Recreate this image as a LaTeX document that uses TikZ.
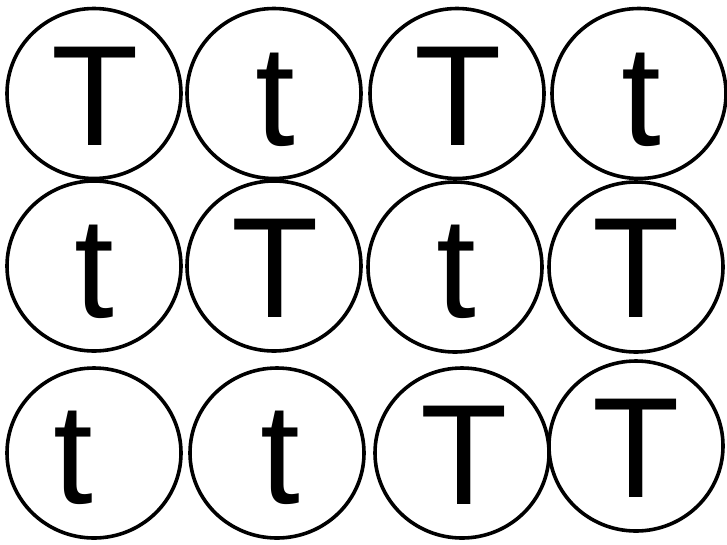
\documentclass[tikz,border=0pt]{standalone}
\usepackage{fontspec}
\setmainfont{Liberation Sans}
\usetikzlibrary{shapes.geometric}

\begin{document}
\begin{tikzpicture}[x=1pt, y=-1pt, line width=3.6pt,
	ring/.style={draw, ellipse, minimum width=174pt, minimum height=170pt, inner sep=0pt},
	letter/.style={anchor=base, inner sep=0pt, font=\fontsize{143}{143}\selectfont}]
	\useasboundingbox (0,0) rectangle (727,544);
	
	% first row
	\node[ring] (rA) at (94,93.5) {};
	\node[ring] (rB) at (274,93.5) {};
	\node[ring] (rC) at (457,93.5) {};
	\node[ring] (rD) at (639,93.5) {};
	\node[letter] (lA) at (95.5,145) {T};
	\node[letter] (lB) at (275.5,145) {t};
	\node[letter] (lC) at (458.5,145) {T};
	\node[letter] (lD) at (641,145) {t};
	
	% second row
	\node[ring] (rE) at (94,266) {};
	\node[ring] (rF) at (274,266) {};
	\node[ring] (rG) at (455,267) {};
	\node[ring] (rH) at (636,267) {};
	\node[letter] (lE) at (94.5,317) {t};
	\node[letter] (lF) at (275.5,317) {T};
	\node[letter] (lG) at (456.5,317) {t};
	\node[letter] (lH) at (636.5,317) {T};
	
	% third row
	\node[ring] (rI) at (94,453) {};
	\node[ring] (rJ) at (277,453) {};
	\node[ring] (rK) at (462,453) {};
	\node[ring] (rL) at (636,446) {};
	\node[letter] (lI) at (73.5,503) {t};
	\node[letter] (lJ) at (280,503) {t};
	\node[letter] (lK) at (464.5,504) {T};
	\node[letter] (lL) at (636.5,497) {T};
	
\end{tikzpicture}
\end{document}
